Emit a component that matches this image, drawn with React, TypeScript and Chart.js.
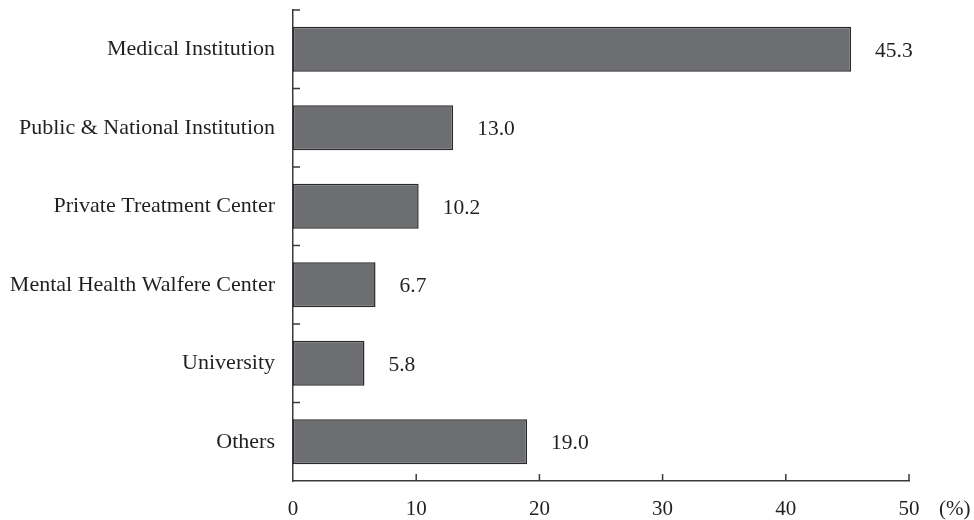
import React, { useEffect, useRef } from 'react';
import { Chart, registerables } from 'chart.js';
Chart.register(...registerables);

const categories = [
  'Medical Institution',
  'Public & National Institution',
  'Private Treatment Center',
  'Mental Health Walfere Center',
  'University',
  'Others',
];
const values = [45.3, 13.0, 10.2, 6.7, 5.8, 19.0];
const valueLabels = ['45.3', '13.0', '10.2', '6.7', '5.8', '19.0'];
const xTicks = [0, 10, 20, 30, 40, 50];
const unitLabel = '(%)';

const FONT_FAMILY = "'Liberation Serif', 'DejaVu Serif', serif";
const TEXT_COLOR = '#231f20';
const AXIS_COLOR = '#3a3a3a';
const BAR_COLOR = '#6d6e72';
const BAR_BORDER = '#2a2a2a';

const decorPlugin = {
  id: 'decor',
  afterDatasetsDraw(chart: any) {
    const { ctx } = chart;
    const meta = chart.getDatasetMeta(0);
    ctx.save();
    ctx.fillStyle = TEXT_COLOR;
    ctx.font = `21.5px ${FONT_FAMILY}`;
    ctx.textAlign = 'left';
    ctx.textBaseline = 'middle';
    meta.data.forEach((bar: any, i: number) => {
      ctx.fillText(valueLabels[i], bar.x + 24, bar.y + 2);
    });
    ctx.restore();
  },
  afterDraw(chart: any) {
    const { ctx, chartArea } = chart;
    const x = chart.scales.x;
    const y = chart.scales.y;
    ctx.save();
    ctx.strokeStyle = AXIS_COLOR;
    ctx.lineWidth = 1.5;
    ctx.beginPath();
    for (let i = 0; i < categories.length; i++) {
      const py = y.getPixelForValue(i - 0.5);
      ctx.moveTo(chartArea.left, py);
      ctx.lineTo(chartArea.left + 7, py);
    }
    xTicks.forEach((v) => {
      if (v === 0) return;
      const px = x.getPixelForValue(v);
      ctx.moveTo(px, chartArea.bottom);
      ctx.lineTo(px, chartArea.bottom - 7);
    });
    ctx.stroke();
    ctx.fillStyle = TEXT_COLOR;
    ctx.font = `21px ${FONT_FAMILY}`;
    ctx.textAlign = 'left';
    ctx.textBaseline = 'middle';
    ctx.fillText(unitLabel, chartArea.right + 30, chartArea.bottom + 28);
    ctx.restore();
  },
};

export default function App() {
  const ref = useRef<HTMLCanvasElement | null>(null);
  useEffect(() => {
    if (!ref.current) return;
    const chart = new Chart(ref.current, {
      type: 'bar',
      data: {
        labels: categories,
        datasets: [
          {
            data: values,
            backgroundColor: BAR_COLOR,
            borderColor: BAR_BORDER,
            borderWidth: 1.5,
            borderSkipped: false,
            barPercentage: 0.575,
            categoryPercentage: 1,
          },
        ],
      },
      options: {
        indexAxis: 'y',
        animation: false,
        responsive: true,
        maintainAspectRatio: false,
        layout: { padding: { top: 10, right: 65, left: 0, bottom: 0 } },
        plugins: {
          legend: { display: false },
          tooltip: { enabled: false },
        },
        scales: {
          x: {
            min: 0,
            max: 50,
            afterFit: (s: any) => {
              s.height = 39;
              s.paddingLeft = 0;
              s.paddingRight = 0;
            },
            afterBuildTicks: (s: any) => {
              s.ticks = xTicks.map((v) => ({ value: v }));
            },
            grid: { display: false, drawTicks: false },
            border: { display: true, color: AXIS_COLOR, width: 1.5 },
            ticks: {
              padding: 16,
              color: TEXT_COLOR,
              font: { family: FONT_FAMILY, size: 21 },
              maxRotation: 0,
            },
          },
          y: {
            offset: true,
            afterFit: (s: any) => {
              s.width = 293;
              s.paddingTop = 0;
              s.paddingBottom = 0;
            },
            grid: { display: false, drawTicks: false, offset: true },
            border: { display: true, color: AXIS_COLOR, width: 1.5 },
            ticks: {
              padding: 18,
              color: TEXT_COLOR,
              font: { family: FONT_FAMILY, size: 22 },
            },
          },
        },
      },
      plugins: [decorPlugin],
    });
    return () => chart.destroy();
  }, []);
  return (
    <div style={{ position: 'absolute', left: 0, top: 0, width: 974, height: 520, background: '#fff' }}>
      <canvas ref={ref} />
    </div>
  );
}
